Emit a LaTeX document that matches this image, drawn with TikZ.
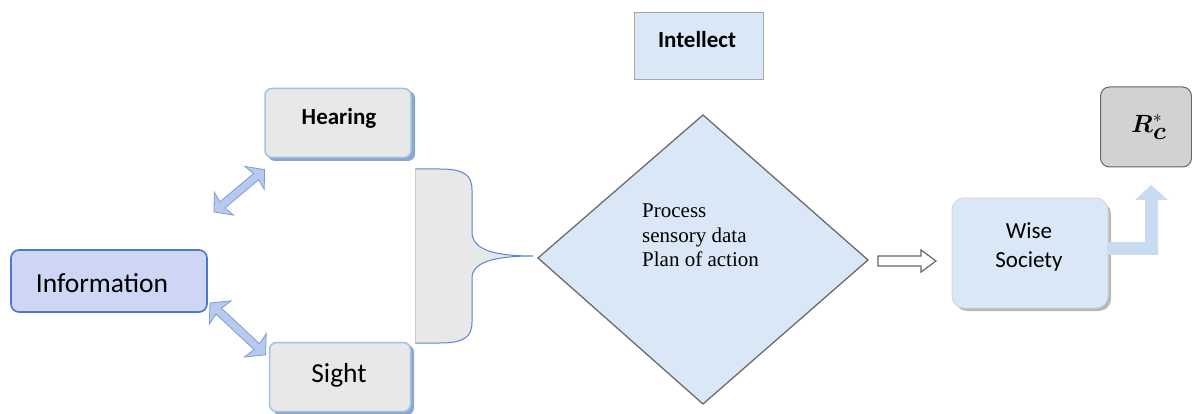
\documentclass[tikz,border=0pt]{standalone}
\usepackage{amsmath}
\usepackage{fontspec}
\setmainfont{Liberation Serif}
\newfontfamily\calib{Carlito}
\usetikzlibrary{calc}
\definecolor{infofill}{HTML}{CDD6F5}
\definecolor{infoline}{HTML}{4E77CC}
\definecolor{grayfill}{HTML}{E8E8E8}
\definecolor{senseline}{HTML}{9DC3E6}
\definecolor{shadowblue}{HTML}{8DA7C9}
\definecolor{lightblue}{HTML}{D9E7F6}
\definecolor{boxgray}{HTML}{A6A6A6}
\definecolor{arrowfill}{HTML}{B7CAEE}
\definecolor{arrowline}{HTML}{7D9BDB}
\definecolor{braceline}{HTML}{5B82D6}
\definecolor{bentfill}{HTML}{C8DBF1}
\definecolor{rfill}{HTML}{D2D2D2}
\tikzset{
  sensebox/.style={draw=senseline, line width=1.5pt, fill=grayfill, rounded corners=7pt, minimum width=146pt, minimum height=69pt, inner sep=0pt},
  label22/.style={font=\calib\fontsize{23}{26}\selectfont\bfseries},
  label26/.style={font=\calib\fontsize{27.5}{32}\selectfont},
  dbarrow/.style={fill=arrowfill, draw=arrowline, line width=0.8pt, line join=miter},
}
\begin{document}
\begin{tikzpicture}[x=1pt,y=-1pt]
\useasboundingbox (0,0) rectangle (1192,414);
% Information
\node[draw=infoline, line width=1.6pt, fill=infofill, rounded corners=8pt, minimum width=196pt, minimum height=62pt, inner sep=0pt] (info) at (109,281) {};
\node[label26] (infotxt) at (102,283) {Information};
% Hearing
\fill[shadowblue, rounded corners=7pt] (268,91) rectangle (415,161);
\node[sensebox] (hear) at (338,123) {};
\node[label22] (heartxt) at (339,118) {Hearing};
% Sight
\fill[shadowblue, rounded corners=7pt] (273,345) rectangle (414,415);
\node[sensebox, minimum width=141pt] (sight) at (340,377) {};
\node[label26] (sighttxt) at (339,375) {Sight};
% double arrows
\begin{scope}[shift={(214,212)}, rotate=40]
  \draw[dbarrow] (0,0) -- (13,15) -- (11,4) -- (55,4) -- (53,15) -- (66,0) -- (53,-15) -- (55,-4) -- (11,-4) -- (13,-15) -- cycle;
\end{scope}
\begin{scope}[shift={(210,303)}, rotate=-43]
  \draw[dbarrow] (0,0) -- (14,16) -- (12,4) -- (64,4) -- (62,16) -- (76,0) -- (62,-16) -- (64,-4) -- (12,-4) -- (14,-16) -- cycle;
\end{scope}
% brace
\coordinate (bracetip) at (533,256);
\fill[grayfill] (415,169) -- (440,169) .. controls (464,169) and (472,175) .. (472,190) -- (472,232) .. controls (472,250) and (495,256) .. (bracetip) .. controls (495,256) and (472,262) .. (472,278) -- (472,322) .. controls (472,337) and (464,343) .. (440,343) -- (415,343) -- cycle;
\draw[braceline, line width=1pt] (415,169) -- (440,169) .. controls (464,169) and (472,175) .. (472,190) -- (472,232) .. controls (472,250) and (495,256) .. (bracetip) .. controls (495,256) and (472,262) .. (472,278) -- (472,322) .. controls (472,337) and (464,343) .. (440,343) -- (415,343);
\draw[gray!40, line width=0.6pt] (415,169) -- (415,343);
% diamond
\coordinate (dtop) at (703,115);
\coordinate (dright) at (868,260);
\coordinate (dbot) at (703,404);
\coordinate (dleft) at (538,258);
\draw[fill=lightblue, draw=gray!85!black, line width=1.3pt] (dtop) -- (dright) -- (dbot) -- (dleft) -- cycle;
\node[anchor=base west, align=left, inner sep=0pt, font=\fontsize{21}{24}\selectfont] (proc) at (642,266) {Process\\sensory data\\Plan of action};
% Intellect
\node[draw=boxgray, line width=1.2pt, fill=lightblue, minimum width=129pt, minimum height=67pt, inner sep=0pt] (intel) at (699,46) {};
\node[label22] (inteltxt) at (697,40) {Intellect};
% hollow arrow
\draw[draw=gray!80!black, fill=white, line width=1.2pt, line join=miter] (878,256) -- (921,256) -- (921,250) -- (936,261) -- (921,272) -- (921,266) -- (878,266) -- cycle;
% Wise Society
\fill[gray!55, rounded corners=12pt] (955,202) rectangle (1111,311);
\node[draw=gray!35, line width=0.8pt, fill=lightblue, rounded corners=12pt, minimum width=156pt, minimum height=110pt, inner sep=0pt] (wise) at (1030,253) {};
\node[align=center, font=\calib\fontsize{23}{29}\selectfont] (wisetxt) at (1029,247) {Wise\\Society};
% bent arrow
\fill[bentfill] (1108,242) -- (1145,242) -- (1145,200) -- (1135,200) -- (1151,185) -- (1168,200) -- (1158,200) -- (1158,255) -- (1108,255) -- cycle;
% R box
\node[draw=gray!80!black, line width=1pt, fill=rfill, rounded corners=9pt, minimum width=91pt, minimum height=80pt, inner sep=0pt] (rc) at (1146,127) {};
\node[anchor=base west, inner sep=0pt, font=\fontsize{24}{28}\selectfont] (rctxt) at (1131,133) {$\boldsymbol{R}^{\scriptstyle *}_{\textstyle\boldsymbol{c}}$};
\end{tikzpicture}
\end{document}
